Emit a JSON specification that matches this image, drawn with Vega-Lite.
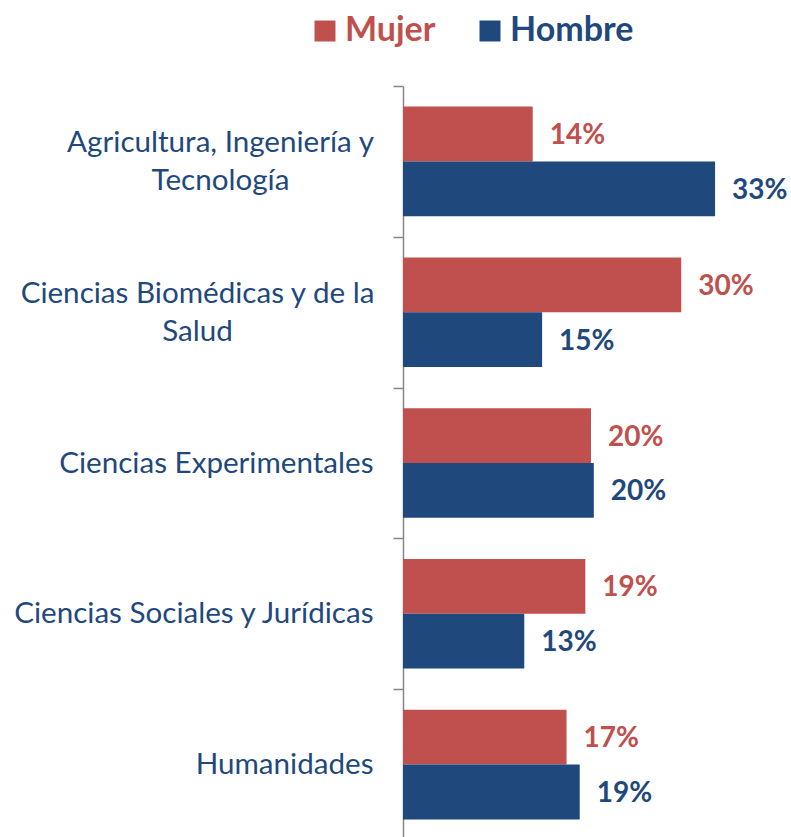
{
  "$schema": "https://vega.github.io/schema/vega-lite/v6.json",
  "autosize": "none",
  "padding": {"left": 403, "top": 86, "right": 59, "bottom": 0},
  "width": 329,
  "height": 754,
  "config": {"view": {"stroke": null}, "font": "Lato"},
  "data": {"values": [
    {"area": "Agricultura, Ingeniería y Tecnología", "sexo": "Mujer", "pct": 0.138},
    {"area": "Agricultura, Ingeniería y Tecnología", "sexo": "Hombre", "pct": 0.332},
    {"area": "Ciencias Biomédicas y de la Salud", "sexo": "Mujer", "pct": 0.296},
    {"area": "Ciencias Biomédicas y de la Salud", "sexo": "Hombre", "pct": 0.148},
    {"area": "Ciencias Experimentales", "sexo": "Mujer", "pct": 0.200},
    {"area": "Ciencias Experimentales", "sexo": "Hombre", "pct": 0.203},
    {"area": "Ciencias Sociales y Jurídicas", "sexo": "Mujer", "pct": 0.194},
    {"area": "Ciencias Sociales y Jurídicas", "sexo": "Hombre", "pct": 0.129},
    {"area": "Humanidades", "sexo": "Mujer", "pct": 0.174},
    {"area": "Humanidades", "sexo": "Hombre", "pct": 0.188}
  ]},
  "encoding": {
    "y": {
      "field": "area", "type": "nominal", "sort": null,
      "scale": {"paddingInner": 0, "paddingOuter": 0},
      "axis": {
        "title": null,
        "tickBand": "extent",
        "domainColor": "#868686", "domainWidth": 1.5,
        "tickColor": "#868686", "tickWidth": 1.5, "tickSize": 10,
        "labelFont": "Lato", "labelFontSize": 29.6, "labelColor": "#1F497D",
        "labelLimit": 0, "labelLineHeight": 38,
        "labelExpr": "datum.value == 'Agricultura, Ingeniería y Tecnología' ? ['Agricultura, Ingeniería y', 'Tecnología'] : datum.value == 'Ciencias Biomédicas y de la Salud' ? ['Ciencias Biomédicas y de la', 'Salud'] : datum.value",
        "labelAlign": {"condition": {"test": "datum.value == 'Agricultura, Ingeniería y Tecnología' || datum.value == 'Ciencias Biomédicas y de la Salud'", "value": "center"}, "value": "right"},
        "labelOffset": {"condition": {"test": "datum.value == 'Agricultura, Ingeniería y Tecnología' || datum.value == 'Ciencias Biomédicas y de la Salud'", "value": -19}, "value": 0},
        "labelPadding": {"condition": [
          {"test": "datum.value == 'Agricultura, Ingeniería y Tecnología'", "value": 173},
          {"test": "datum.value == 'Ciencias Biomédicas y de la Salud'", "value": 196}
        ], "value": 20}
      }
    },
    "yOffset": {"field": "sexo", "type": "nominal", "sort": ["Mujer", "Hombre"], "scale": {"paddingInner": 0, "paddingOuter": 0.376}},
    "x": {"field": "pct", "type": "quantitative", "scale": {"domain": [0, 0.35], "nice": false}, "axis": null},
    "color": {
      "field": "sexo", "type": "nominal",
      "scale": {"domain": ["Mujer", "Hombre"], "range": ["#C0504D", "#1F497D"]},
      "legend": {
        "title": null, "orient": "none", "direction": "horizontal",
        "legendX": -95, "legendY": -72,
        "symbolType": "square", "symbolSize": 441, "symbolStrokeWidth": 0,
        "symbolOpacity": 1,
        "labelFont": "Lato", "labelFontSize": 34, "labelFontWeight": "bold",
        "labelOffset": 3, "columnPadding": 37,
        "encode": {"labels": {"update": {"fill": {"signal": "datum.value == 'Mujer' ? '#C0504D' : '#1F497D'"}}}}
      }
    }
  },
  "layer": [
    {"mark": {"type": "bar", "opacity": 1}},
    {
      "mark": {"type": "text", "align": "left", "baseline": "middle", "dx": 17, "dy": 2, "fontSize": 28, "fontWeight": "bold", "font": "Lato"},
      "encoding": {"text": {"field": "pct", "type": "quantitative", "format": ".0%"}}
    }
  ]
}
